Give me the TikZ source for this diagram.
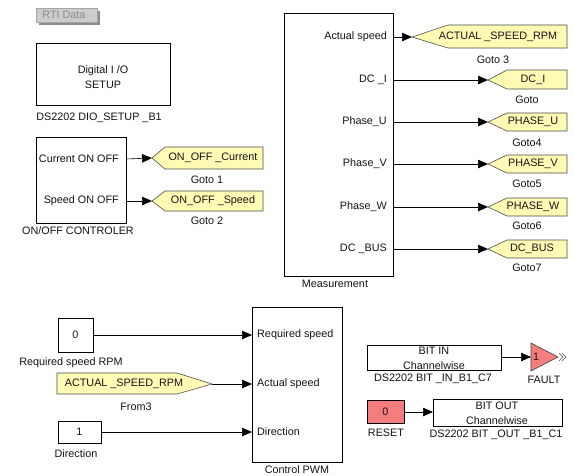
\documentclass[tikz,border=0pt]{standalone}
\usepackage{fontspec}
\setmainfont{Liberation Sans}
\usetikzlibrary{arrows.meta}
\definecolor{gotoyellow}{RGB}{255,251,180}
\definecolor{salmon}{RGB}{245,125,125}
\definecolor{rtifill}{RGB}{204,204,204}
\definecolor{rtiedge}{RGB}{165,165,165}
\definecolor{rtishadow}{RGB}{140,140,140}
\begin{document}
\begin{tikzpicture}[x=1pt,y=-1pt,
  txt/.style={font=\fontsize{10.8}{13}\selectfont, text=black!92, inner sep=0pt},
  blk/.style={draw=black, line width=0.7pt, fill=white, inner sep=0pt, outer sep=0pt},
  redblk/.style={blk, fill=salmon},
  conn/.style={draw=black, line width=0.6pt, -{Triangle[length=10pt,width=8.5pt]}},
  tag/.style={draw=black!70, line width=0.6pt, fill=gotoyellow, line join=miter}
]
\useasboundingbox (0,0) rectangle (574,475);
\fill[white] (0,0) rectangle (574,475);

% RTI Data
\fill[rtishadow] (39,11) rectangle (100,25);
\draw[rtiedge, fill=rtifill, line width=0.6pt] (36,8) rectangle (97,22);
\node[txt, text=black!45] (rti) at (64,15) {RTI Data};

% Digital I/O setup
\node[blk, minimum width=134pt, minimum height=62pt] (dio) at (103,74) {};
\node[txt] (diot1) at (103,71) {Digital I /O};
\node[txt] (diot2) at (103,85) {SETUP};
\node[txt] (diol) at (99,118) {DS2202 DIO\_SETUP \_B1};

% ON/OFF controller
\node[blk, minimum width=90pt, minimum height=86pt] (onoff) at (81,180) {};
\node[txt, anchor=east] (p1) at (119,159) {Current ON OFF};
\node[txt, anchor=east] (p2) at (119,201) {Speed ON OFF};
\node[txt] (onoffl) at (78,231) {ON/OFF CONTROLER};

\draw[tag] (152,158) -- (165,147) -- (263,147) -- (263,169) -- (165,169) -- cycle;
\coordinate (g1tip) at (152,158);
\node[txt] (g1) at (213,158) {ON\_OFF \_Current};
\node[txt] (g1l) at (207,180) {Goto 1};
\draw[tag] (152,201) -- (165,191) -- (263,191) -- (263,211) -- (165,211) -- cycle;
\coordinate (g2tip) at (152,201);
\node[txt] (g2) at (213,201) {ON\_OFF \_Speed};
\node[txt] (g2l) at (207,221) {Goto 2};

\draw[conn] (onoff.east |- p1) -- (g1tip);
\draw[conn] (onoff.east |- p2) -- (g2tip);

% Measurement
\node[blk, minimum width=109pt, minimum height=263pt] (meas) at (338.5,144.5) {};
\node[txt, anchor=east] (m1) at (387,37) {Actual speed};
\node[txt, anchor=east] (m2) at (387,80) {DC \_I};
\node[txt, anchor=east] (m3) at (387,122) {Phase\_U};
\node[txt, anchor=east] (m4) at (387,164) {Phase\_V};
\node[txt, anchor=east] (m5) at (387,207) {Phase\_W};
\node[txt, anchor=east] (m6) at (387,249) {DC \_BUS};
\node[txt] (measl) at (335,284) {Measurement};

\draw[tag] (412,37) -- (448,25) -- (567,25) -- (567,48) -- (448,48) -- cycle;
\coordinate (g3tip) at (412,37);
\node[txt] (g3) at (498,37) {ACTUAL \_SPEED\_RPM};
\node[txt] (g3l) at (493,60) {Goto 3};

\draw[tag] (488,80) -- (507,70) -- (567,70) -- (567,89) -- (507,89) -- cycle;
\coordinate (g0tip) at (488,80);
\node[txt] (g0) at (533,80) {DC\_I};
\node[txt] (g0l) at (527,100) {Goto};

\draw[tag] (488,122) -- (507,113) -- (567,113) -- (567,131) -- (507,131) -- cycle;
\coordinate (g4tip) at (488,122);
\node[txt] (g4) at (533,122) {PHASE\_U};
\node[txt] (g4l) at (527,143) {Goto4};

\draw[tag] (488,164) -- (507,155) -- (567,155) -- (567,173) -- (507,173) -- cycle;
\coordinate (g5tip) at (488,164);
\node[txt] (g5) at (533,164) {PHASE\_V};
\node[txt] (g5l) at (527,184) {Goto5};

\draw[tag] (488,207) -- (507,198) -- (567,198) -- (567,216) -- (507,216) -- cycle;
\coordinate (g6tip) at (488,207);
\node[txt] (g6) at (533,207) {PHASE\_W};
\node[txt] (g6l) at (527,226) {Goto6};

\draw[tag] (488,249) -- (507,240) -- (567,240) -- (567,258) -- (507,258) -- cycle;
\coordinate (g7tip) at (488,249);
\node[txt] (g7) at (532,249) {DC\_BUS};
\node[txt] (g7l) at (527,268) {Goto7};

\draw[conn] (meas.east |- m1) -- (g3tip);
\draw[conn] (meas.east |- m2) -- (g0tip);
\draw[conn] (meas.east |- m3) -- (g4tip);
\draw[conn] (meas.east |- m4) -- (g5tip);
\draw[conn] (meas.east |- m5) -- (g6tip);
\draw[conn] (meas.east |- m6) -- (g7tip);

% Control PWM inputs
\node[blk, minimum width=35pt, minimum height=34pt] (c0) at (75.5,335) {};
\node[txt] (c0t) at (75.5,335) {0};
\node[txt] (c0l) at (71,363) {Required speed RPM};

\draw[tag] (57,373) -- (177,373) -- (212,384) -- (177,394) -- (57,394) -- cycle;
\coordinate (f3tip) at (212,384);
\node[txt] (f3) at (124,384) {ACTUAL \_SPEED\_RPM};
\node[txt] (f3l) at (136,407) {From3};

\node[blk, minimum width=43pt, minimum height=22pt] (c1) at (79.5,432) {};
\node[txt] (c1t) at (79.5,432) {1};
\node[txt] (c1l) at (76,454) {Direction};

\node[blk, minimum width=90pt, minimum height=155pt] (pwm) at (297,384.5) {};
\node[txt, anchor=west] (q1) at (257,335) {Required speed};
\node[txt, anchor=west] (q2) at (257,384) {Actual speed};
\node[txt, anchor=west] (q3) at (257,432) {Direction};
\node[txt] (pwml) at (297,469.5) {Control PWM};

\draw[conn] (c0.east) -- (pwm.west |- c0.east);
\draw[conn] (f3tip) -- (pwm.west |- f3tip);
\draw[conn] (c1.east) -- (pwm.west |- c1.east);

% BIT IN / FAULT
\node[blk, minimum width=134pt, minimum height=25pt] (bitin) at (434,357.5) {};
\node[txt] (bitint1) at (434,351) {BIT IN};
\node[txt] (bitint2) at (434,366) {Channelwise};
\node[txt] (bitinl) at (433,379) {DS2202 BIT \_IN\_B1\_C7};

\draw[draw=black!75, line width=0.6pt, fill=salmon] (531,343) -- (558,357) -- (531,371) -- cycle;
\coordinate (faulttip) at (531,357);
\node[txt, anchor=west] (faultt) at (533,357) {1};
\draw[black!70, line width=0.5pt] (559,353) -- (563,357) -- (559,361);
\draw[black!70, line width=0.5pt] (562,353) -- (566,357) -- (562,361);
\node[txt] (faultl) at (544,380) {FAULT};
\draw[conn] (bitin.east |- faulttip) -- (faulttip);

% RESET / BIT OUT
\node[redblk, minimum width=37pt, minimum height=23pt] (reset) at (385.5,412) {};
\node[txt] (resett) at (385.5,412) {0};
\node[txt] (resetl) at (386,433) {RESET};

\node[blk, minimum width=129pt, minimum height=27pt] (bitout) at (497.5,412.5) {};
\node[txt] (bitoutt1) at (497,406) {BIT OUT};
\node[txt] (bitoutt2) at (497,421) {Channelwise};
\node[txt] (bitoutl) at (496,435) {DS2202 BIT \_OUT \_B1\_C1};

\draw[conn] (reset.east) -- (bitout.west |- reset.east);
\end{tikzpicture}
\end{document}
